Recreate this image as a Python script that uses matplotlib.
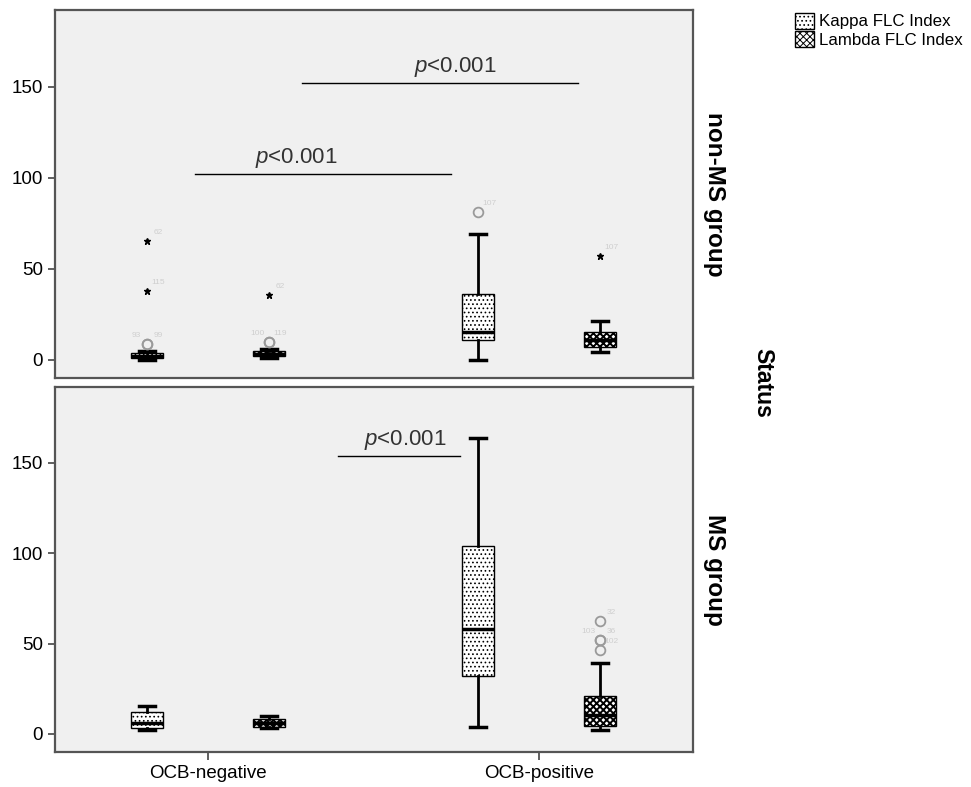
import numpy as np
import matplotlib.pyplot as plt
from matplotlib.patches import Patch

plt.rcParams['font.family'] = ['Liberation Sans', 'DejaVu Sans']
plt.rcParams['mathtext.fontset'] = 'custom'
plt.rcParams['mathtext.it'] = 'Liberation Sans:italic'
plt.rcParams['mathtext.rm'] = 'Liberation Sans'
plt.rcParams['hatch.linewidth'] = 0.7

categories = ["OCB-negative", "OCB-positive"]
series = ["Kappa FLC Index", "Lambda FLC Index"]
panels = ["non-MS group", "MS group"]

# [whisker low, Q1, median, Q3, whisker high] per category
nonms_kappa = [[0, 1, 2, 4, 5], [0, 11, 15, 36, 69]]
nonms_lambda = [[1, 2, 3, 5, 6], [4.4, 7, 11, 15.4, 21.4]]
ms_kappa = [[2.4, 3.3, 6, 12.4, 15.5], [4, 32, 58, 104, 164]]
ms_lambda = [[3, 4, 6, 8, 10], [2.4, 4.5, 10.6, 21, 39.4]]

# outliers: panel, series index, category index, value, case number, kind, label side
out_panel = [0, 0, 0, 0, 0, 0, 0, 0, 0, 1, 1, 1, 1]
out_series = [0, 0, 0, 0, 1, 1, 1, 0, 1, 1, 1, 1, 1]
out_cat = [0, 0, 0, 0, 0, 0, 0, 1, 1, 1, 1, 1, 1]
out_value = [65.4, 37.9, 8.8, 8.8, 35.7, 9.9, 9.9, 81.3, 57, 62.4, 52, 52, 46.5]
out_case = ["62", "115", "93", "99", "62", "100", "119", "107", "107", "32", "103", "36", "102"]
out_kind = ["*", "*", "o", "o", "*", "o", "o", "o", "*", "o", "o", "o", "o"]
out_side = ["r", "r", "l", "r", "r", "l", "r", "r", "r", "r", "l", "r", "r"]

hatches = ["....", "xxxxx"]
hatch_lw = [0.7, 1.4]
offsets = [-0.184, 0.184]
box_w = 0.097

fig = plt.figure(figsize=(9.71, 7.87), dpi=100)
ax_top = fig.add_axes([0.0566, 0.5197, 0.6571, 0.4673])
ax_bot = fig.add_axes([0.0566, 0.0445, 0.6571, 0.4638])
axes = [ax_top, ax_bot]
panel_data = [[nonms_kappa, nonms_lambda], [ms_kappa, ms_lambda]]

for p, ax in enumerate(axes):
    ax.set_facecolor('#f0f0f0')
    for s in range(2):
        stats = [dict(whislo=v[0], q1=v[1], med=v[2], q3=v[3], whishi=v[4], fliers=[])
                 for v in panel_data[p][s]]
        with plt.rc_context({'hatch.linewidth': hatch_lw[s]}):
            ax.bxp(stats, positions=np.arange(2) + offsets[s], widths=box_w,
                   capwidths=box_w / 2, patch_artist=True, showfliers=False,
                   manage_ticks=False,
                   boxprops=dict(facecolor='white', edgecolor='black', hatch=hatches[s], linewidth=1),
                   medianprops=dict(color='black', linewidth=2.5),
                   whiskerprops=dict(color='black', linewidth=2),
                   capprops=dict(color='black', linewidth=2.5))
    for i in range(len(out_value)):
        if out_panel[i] != p:
            continue
        x = out_cat[i] + offsets[out_series[i]]
        if out_kind[i] == "*":
            ax.plot(x, out_value[i], marker='*', color='black', markersize=4.5, ls='none')
        else:
            ax.plot(x, out_value[i], marker='o', mfc='none', mec='#9a9a9a', mew=1.3,
                    markersize=7, ls='none')
        dx = 8 if out_side[i] == "r" else -8
        ax.annotate(out_case[i], (x, out_value[i]), xytext=(dx, 6), textcoords='offset points',
                    ha='center', va='center', fontsize=6, color='#cfcfcf')

    ax.set_xlim(-0.462, 1.465)
    ax.set_ylim(-10, 192)
    ax.set_yticks([0, 50, 100, 150])
    ax.tick_params(axis='y', labelsize=13.5, length=5, width=1.2, color='#444444')
    for sp in ax.spines.values():
        sp.set_color('#555555')
        sp.set_linewidth(1.6)

ax_top.set_xticks([])
ax_bot.set_xticks([0, 1])
ax_bot.set_xticklabels(categories)
ax_bot.tick_params(axis='x', labelsize=13.5, length=6, width=1.2, color='#444444')

# significance bars
ax_top.plot([-0.039, 0.734], [102, 102], color='black', lw=1)
ax_top.text(0.266, 104, r'$\it{p}$<0.001', ha='center', va='bottom', fontsize=16, color='#333333')
ax_top.plot([0.284, 1.118], [152, 152], color='black', lw=1)
ax_top.text(0.746, 154, r'$\it{p}$<0.001', ha='center', va='bottom', fontsize=16, color='#333333')
ax_bot.plot([0.393, 0.761], [153.8, 153.8], color='black', lw=1)
ax_bot.text(0.595, 155.8, r'$\it{p}$<0.001', ha='center', va='bottom', fontsize=16, color='#333333')

fig.text(0.736, 0.7535, panels[0], rotation=-90, ha='center', va='center',
         fontsize=17.5, fontweight='bold')
fig.text(0.736, 0.2757, panels[1], rotation=-90, ha='center', va='center',
         fontsize=17.5, fontweight='bold')
fig.text(0.786, 0.513, "Status", rotation=-90, ha='center', va='center',
         fontsize=16.5, fontweight='bold')

handles = []
for h, lw, lab in zip(hatches, hatch_lw, series):
    with plt.rc_context({'hatch.linewidth': lw}):
        handles.append(Patch(facecolor='white', edgecolor='black', hatch=h, label=lab))
fig.legend(handles=handles, loc='upper left', bbox_to_anchor=(0.819, 0.984),
           frameon=False, fontsize=12.2, handlelength=1.1, handleheight=1.1,
           handletextpad=0.3, labelspacing=0.1, borderaxespad=0, borderpad=0)

fig.savefig('out.png', dpi=100)
